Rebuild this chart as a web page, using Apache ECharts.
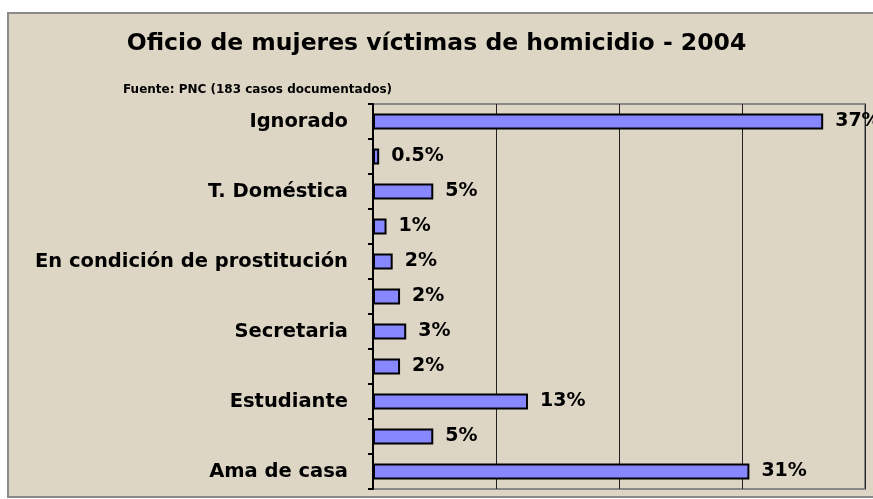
<!DOCTYPE html>
<html>
<head>
<meta charset="utf-8">
<script src="https://cdn.jsdelivr.net/npm/echarts@6/dist/echarts.min.js"></script>
<style>
html,body{margin:0;padding:0;background:#ffffff;}
#chart{width:873px;height:499px;}
</style>
</head>
<body>
<div id="chart"></div>
<script>
// Categories listed bottom to top (hidden ones are not labelled in the original)
var categories = ["Ama de casa", "Comerciante", "Estudiante", "Obrera", "Secretaria", "Mesera", "En condición de prostitución", "Profesional", "T. Doméstica", "Otros", "Ignorado"];
var values = [30.6, 4.9, 12.6, 2.2, 2.7, 2.2, 1.6, 1.1, 4.9, 0.5, 36.6];
var titleText = "Oficio de mujeres víctimas de homicidio - 2004";
var subtitleText = "Fuente: PNC (183 casos documentados)";
var axisMax = 40;
var axisInterval = 10;

var FONT = "'DejaVu Sans', 'Liberation Sans', Arial, sans-serif";
var chart = echarts.init(document.getElementById('chart'), null, {renderer: 'canvas'});
chart.setOption({
  backgroundColor: '#ffffff',
  animation: false,
  graphic: [{
    type: 'rect', z: -10, silent: true,
    shape: {x: 8, y: 13, width: 900, height: 484},
    style: {fill: '#ddd6c5', stroke: '#8a8a8a', lineWidth: 2}
  }, {
    type: 'text', left: 'center', top: 32,
    style: {text: titleText, font: 'bold 23.5px ' + FONT, fill: '#000000'}
  }, {
    type: 'text', left: 123, top: 84,
    style: {text: subtitleText, font: 'bold 12px ' + FONT, fill: '#000000'}
  }],
  grid: {
    left: 373, right: 8, top: 104, bottom: 10,
    show: true, borderColor: '#888888', borderWidth: 2, backgroundColor: 'transparent'
  },
  xAxis: {
    type: 'value', min: 0, max: axisMax, interval: axisInterval,
    axisLabel: {show: false},
    axisLine: {show: false},
    axisTick: {show: false},
    splitLine: {show: true, lineStyle: {color: '#222222', width: 1}}
  },
  yAxis: {
    type: 'category', data: categories,
    axisLine: {show: true, lineStyle: {color: '#000000', width: 2}},
    axisTick: {show: true, length: 5, interval: 0, lineStyle: {color: '#000000', width: 2}},
    axisLabel: {interval: 1, margin: 25, color: '#000000', fontWeight: 'bold', fontSize: 19.5, fontFamily: FONT},
    splitLine: {show: false}
  },
  series: [{
    type: 'bar',
    data: values,
    barWidth: 16,
    itemStyle: {color: '#8787ff', borderColor: '#000000', borderWidth: 2},
    label: {
      show: true, position: 'right', distance: 12,
      color: '#000000', fontWeight: 'bold', fontSize: 19, fontFamily: FONT,
      formatter: function (p) {
        var v = p.value;
        return (v < 1 ? v.toFixed(1) : Math.round(v)) + '%';
      }
    }
  }]
});
</script>
</body>
</html>
